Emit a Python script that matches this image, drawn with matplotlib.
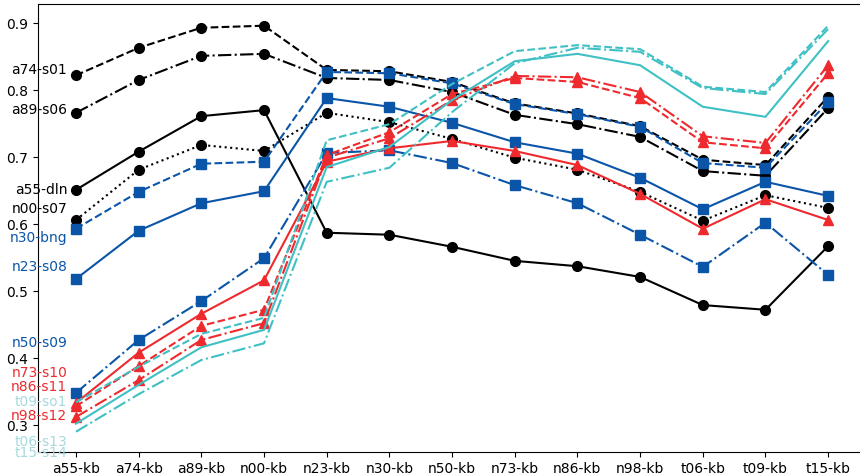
import numpy as np
import matplotlib
matplotlib.use('Agg')
import matplotlib.pyplot as plt

# x categories
cats = ['a55-kb', 'a74-kb', 'a89-kb', 'n00-kb', 'n23-kb', 'n30-kb', 'n50-kb',
        'n73-kb', 'n86-kb', 'n98-kb', 't06-kb', 't09-kb', 't15-kb']

# series values
a74_s01 = [0.822, 0.863, 0.893, 0.896, 0.830, 0.828, 0.812, 0.780, 0.765, 0.746, 0.696, 0.688, 0.790]
a89_s06 = [0.766, 0.815, 0.851, 0.854, 0.818, 0.815, 0.797, 0.763, 0.749, 0.730, 0.679, 0.672, 0.773]
a55_dln = [0.651, 0.708, 0.761, 0.770, 0.587, 0.584, 0.566, 0.545, 0.537, 0.521, 0.479, 0.472, 0.567]
n00_s07 = [0.606, 0.681, 0.718, 0.709, 0.766, 0.752, 0.727, 0.699, 0.681, 0.648, 0.605, 0.643, 0.624]

n30_bng = [0.593, 0.648, 0.690, 0.693, 0.827, 0.825, 0.810, 0.779, 0.764, 0.745, 0.691, 0.684, 0.782]
n23_s08 = [0.518, 0.590, 0.631, 0.649, 0.788, 0.775, 0.751, 0.722, 0.705, 0.669, 0.622, 0.663, 0.642]
n50_s09 = [0.348, 0.427, 0.485, 0.549, 0.706, 0.710, 0.691, 0.658, 0.631, 0.584, 0.536, 0.602, 0.524]

n73_s10 = [0.333, 0.408, 0.466, 0.516, 0.693, 0.713, 0.724, 0.709, 0.688, 0.645, 0.593, 0.637, 0.606]
n86_s11 = [0.328, 0.388, 0.448, 0.472, 0.703, 0.737, 0.794, 0.818, 0.812, 0.788, 0.722, 0.713, 0.825]
n98_s12 = [0.312, 0.367, 0.427, 0.452, 0.699, 0.728, 0.785, 0.821, 0.819, 0.797, 0.731, 0.721, 0.837]

t09_so1 = [0.334, 0.387, 0.436, 0.460, 0.725, 0.749, 0.809, 0.858, 0.867, 0.861, 0.805, 0.797, 0.896]
t06_s13 = [0.302, 0.360, 0.416, 0.442, 0.685, 0.715, 0.785, 0.843, 0.854, 0.837, 0.775, 0.760, 0.873]
t15_s14 = [0.290, 0.346, 0.397, 0.422, 0.663, 0.684, 0.767, 0.840, 0.863, 0.857, 0.803, 0.794, 0.891]

names = ['a74-s01', 'a89-s06', 'a55-dln', 'n00-s07', 'n30-bng', 'n23-s08', 'n50-s09',
         'n73-s10', 'n86-s11', 'n98-s12', 't09-so1', 't06-s13', 't15-s14']
series = [a74_s01, a89_s06, a55_dln, n00_s07, n30_bng, n23_s08, n50_s09,
          n73_s10, n86_s11, n98_s12, t09_so1, t06_s13, t15_s14]
# where the name labels sit on the left
label_y = [0.830, 0.770, 0.651, 0.622, 0.579, 0.536, 0.422,
           0.378, 0.357, 0.313, 0.334, 0.275, 0.258]

black, blue, red, cyan = 'black', '#0b55a8', '#ee2a2e', '#3fc0c4'
cyan_txt = '#a6dadd'
styles = [
    (black, '--', 'o'), (black, '-.', 'o'), (black, '-', 'o'), (black, ':', 'o'),
    (blue, '--', 's'), (blue, '-', 's'), (blue, '-.', 's'),
    (red, '-', '^'), (red, '--', '^'), (red, '-.', '^'),
    (cyan, '--', None), (cyan, '-', None), (cyan, '-.', None),
]

fig = plt.figure(figsize=(8.6, 4.76), dpi=100)
ax = fig.add_axes([38 / 860, 1 - 452 / 476, (862 - 38) / 860, 448 / 476])
x = np.arange(len(cats))

for name, vals, (c, ls, mk), ly in zip(names, series, styles, label_y):
    ax.plot(x, vals, color=c, linestyle=ls, marker=mk, markersize=7, linewidth=1.5)
    tc = cyan_txt if c == cyan else c
    ax.text(-0.14, ly, name, color=tc, ha='right', va='center', fontsize=10)

ax.set_xticks(x)
ax.set_xticklabels(cats)
ax.set_yticks([0.3, 0.4, 0.5, 0.6, 0.7, 0.8, 0.9])
ax.set_yticklabels(['0.3', '0.4', '0.5', '0.6', '0.7', '0.8', '0.9'])
ax.set_xlim(-0.606, 12.54)
ax.set_ylim(0.2597, 0.9284)
ax.tick_params(labelsize=10)

fig.savefig('out.png', dpi=100)
